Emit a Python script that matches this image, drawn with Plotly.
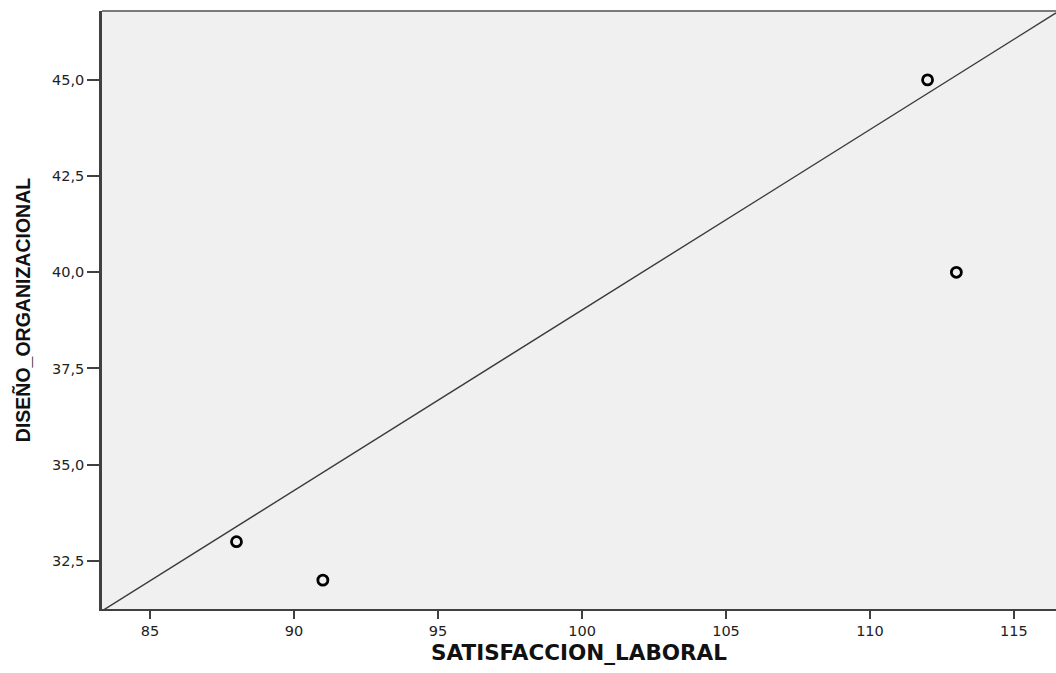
import plotly.graph_objects as go

satisfaccion = [88, 91, 112, 113]
diseno = [33.0, 32.0, 45.0, 40.0]

# reference line endpoints
line_x = [83.33, 116.46]
line_y = [31.2, 46.74]

x_ticks = [85, 90, 95, 100, 105, 110, 115]
y_ticks = [32.5, 35.0, 37.5, 40.0, 42.5, 45.0]

tick_font = "DejaVu Sans, sans-serif"

fig = go.Figure()
fig.add_trace(go.Scatter(x=line_x, y=line_y, mode="lines",
                         line=dict(color="#3a3a3a", width=1.4),
                         hoverinfo="skip", showlegend=False))
fig.add_trace(go.Scatter(x=satisfaccion, y=diseno, mode="markers",
                         marker=dict(symbol="circle-open", size=10,
                                     color="black", line=dict(width=2.8, color="black")),
                         showlegend=False))

fig.update_layout(
    width=1056, height=673,
    margin=dict(l=102, r=0, t=11, b=64),
    paper_bgcolor="white", plot_bgcolor="#f0f0f0",
    separators=",.",
    font=dict(family=tick_font, color="#222222", size=14),
    xaxis=dict(range=[83.33, 116.46], tickvals=x_ticks, tickformat="d",
               showgrid=False, zeroline=False,
               showline=True, linecolor="#404040", linewidth=2,
               ticks="outside", ticklen=8, tickwidth=2.2, tickcolor="#404040",
               tickfont=dict(size=14.5, family=tick_font, color="#222222"),
               title=dict(text="<b>SATISFACCION_LABORAL</b>", standoff=7,
                          font=dict(size=21.5, family="DejaVu Sans, sans-serif", color="#111111"))),
    yaxis=dict(range=[31.25, 46.79], tickvals=y_ticks, tickformat=".1f",
               showgrid=False, zeroline=False,
               showline=True, linecolor="#404040", linewidth=2.5,
               ticks="outside", ticklen=12, tickwidth=1.6, tickcolor="#404040",
               tickfont=dict(size=14.5, family=tick_font, color="#222222"),
               title=dict(text="<b>DISEÑO_ORGANIZACIONAL</b>", standoff=17,
                          font=dict(size=19.5, family="Liberation Sans, Arial, sans-serif", color="#111111"))),
    shapes=[dict(type="line", xref="paper", yref="paper", x0=0, x1=1, y0=1, y1=1,
                 line=dict(color="#7a7a7a", width=2))],
)

fig.write_html("out.html", config={"displayModeBar": False},
               post_script="document.body.style.margin='0';")
